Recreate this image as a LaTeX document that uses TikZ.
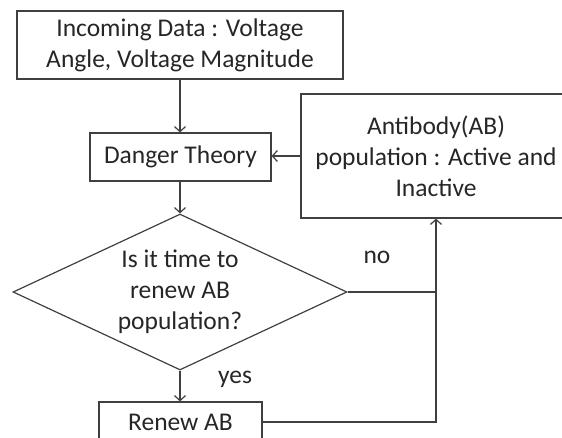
\documentclass[tikz,border=0pt]{standalone}
\usepackage{fontspec}
\setmainfont{Carlito}
\usetikzlibrary{shapes.geometric,arrows.meta}
\colorlet{linegray}{black!75}
\colorlet{textgray}{black!85}

\begin{document}
\begin{tikzpicture}[x=1pt,y=-1pt,
        font=\fontsize{25.5}{31}\selectfont,
        box/.style={draw=linegray,line width=1.2pt,text=textgray,align=center,inner sep=0pt},
        decide/.style={box,diamond,aspect=2.14},
        link/.style={draw=linegray,line width=1.2pt},
        flow/.style={link,-{Straight Barb[length=5pt,width=11pt]}}]
        \useasboundingbox (0,0) rectangle (562,437);
        % boxes
        \node[box,minimum width=326pt,minimum height=68pt] (input) at (180,45) {Incoming Data : Voltage\\Angle, Voltage Magnitude};
        \node[box,minimum width=181pt,minimum height=48pt] (danger) at (180.5,157) {Danger Theory};
        \node[box,minimum width=270pt,minimum height=124pt] (ab) at (436,156) {Antibody(AB)\\population : Active and\\Inactive};
        \node[decide,minimum width=334pt,minimum height=156pt] (test) at (180,292) {Is it time to\\renew AB\\population?};
        \node[box,minimum width=163pt,minimum height=40pt] (renew) at (180.5,422) {Renew AB};
        \node[text=textgray] (nolbl) at (377,257) {no};
        \node[text=textgray] (yeslbl) at (235,379) {yes};
        % arrows
        \draw[flow] (input.south) -- (input.south |- danger.north);
        \draw[flow] (ab.west) -- (ab.west -| danger.east);
        \draw[flow] (danger.south -| test.north) -- (test.north);
        \draw[flow] (test.south) -- (test.south |- renew.north);
        \draw[link] (test.east) -- (test.east -| ab.south);
        \draw[flow] (renew.east) -| (ab.south);
    \end{tikzpicture}
\end{document}
